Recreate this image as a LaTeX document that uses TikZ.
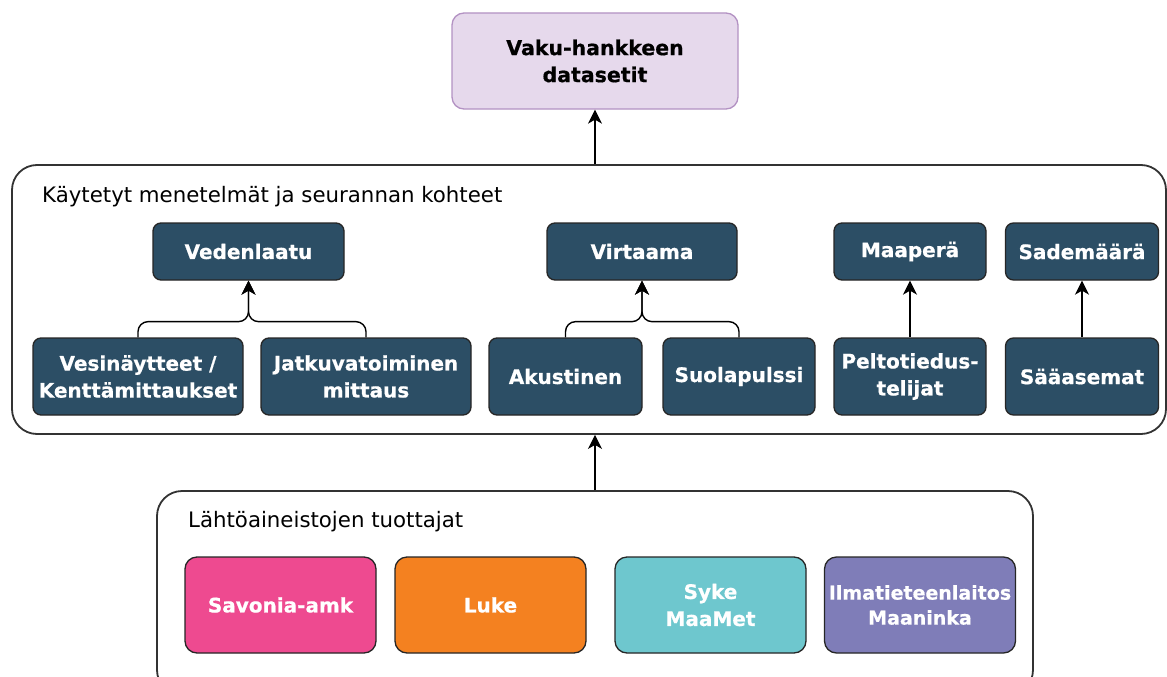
\documentclass[tikz,border=0pt]{standalone}
\usepackage{fontspec}
\setmainfont{DejaVu Sans}[BoldFeatures={FakeBold=0.6}]
\usetikzlibrary{arrows.meta}
\definecolor{navy}{HTML}{2C4E65}
\definecolor{lilac}{HTML}{E6D9EC}
\definecolor{lilacline}{HTML}{B392C3}
\definecolor{pinkc}{HTML}{EE4A90}
\definecolor{orangec}{HTML}{F48120}
\definecolor{tealc}{HTML}{6EC7CE}
\definecolor{purplec}{HTML}{7F7DB8}
\definecolor{frame}{HTML}{333333}
\begin{document}
\begin{tikzpicture}[x=1pt,y=-1pt,
  boxfont/.style={font=\bfseries\fontsize{20}{27}\selectfont},
  dark/.style={draw=black!85, line width=1.3pt, fill=navy, rounded corners=8pt, text=white, boxfont, align=center, inner sep=0pt},
  colbox/.style={draw=black!85, line width=1.3pt, rounded corners=12pt, text=white, boxfont, align=center, inner sep=0pt, minimum width=191pt, minimum height=96pt},
  container/.style={draw=frame, line width=1.8pt, fill=white, rounded corners=25pt, inner sep=0pt},
  heading/.style={font=\fontsize{21.3}{25}\selectfont, anchor=base west, inner sep=0pt},
  arr/.style={line width=1.4pt, -{Stealth[length=14pt,width=14pt,inset=4pt]}},
  brace/.style={arr, rounded corners=10pt}
]
\useasboundingbox (0,0) rectangle (1167,677);
\clip (0,0) rectangle (1167,677);
\fill[white] (0,0) rectangle (1167,677);

% top result box
\node[draw=lilacline, line width=1.3pt, fill=lilac, rounded corners=12pt, font=\bfseries\fontsize{20.5}{27}\selectfont, align=center, inner sep=0pt, minimum width=286pt, minimum height=96pt] (top) at (595,61) {Vaku-hankkeen\\datasetit};

% containers
\node[container, minimum width=1154pt, minimum height=269pt] (mid) at (589,299.5) {};
\node[container, minimum width=876pt, minimum height=204pt] (bot) at (595,593) {};

\node[heading] (midtitle) at (42,202) {Käytetyt menetelmät ja seurannan kohteet};
\node[heading] (bottitle) at (188,527) {Lähtöaineistojen tuottajat};

% middle nodes, top row
\node[dark, minimum width=191pt, minimum height=57pt] (veden) at (248.5,251.5) {Vedenlaatu};
\node[dark, minimum width=190pt, minimum height=57pt] (virt) at (642,251.5) {Virtaama};
\node[dark, minimum width=152pt, minimum height=57pt] (maap) at (910,251.5) {Maaperä};
\node[dark, minimum width=153pt, minimum height=57pt] (sade) at (1082,251.5) {Sademäärä};

% middle nodes, bottom row
\node[dark, minimum width=210pt, minimum height=77pt] (vesi) at (138,376.5) {Vesinäytteet /\\Kenttämittaukset};
\node[dark, minimum width=210pt, minimum height=77pt] (jatku) at (366,376.5) {Jatkuvatoiminen\\mittaus};
\node[dark, minimum width=153pt, minimum height=77pt] (akus) at (565.5,376.5) {Akustinen};
\node[dark, minimum width=152pt, minimum height=77pt] (suola) at (739,376.5) {Suolapulssi};
\node[dark, minimum width=152pt, minimum height=77pt] (pelto) at (910,376.5) {Peltotiedus-\\telijat};
\node[dark, minimum width=153pt, minimum height=77pt] (saa) at (1082,376.5) {Sääasemat};

% producers
\node[colbox, fill=pinkc] (savonia) at (280.5,605) {Savonia-amk};
\node[colbox, fill=orangec] (luke) at (490.5,605) {Luke};
\node[colbox, fill=tealc] (syke) at (710.5,605) {Syke\\MaaMet};
\node[colbox, fill=purplec, font=\bfseries\fontsize{19}{25}\selectfont] (ilma) at (920,605) {Ilmatieteenlaitos\\Maaninka};

% junctions
\coordinate (j1) at ([yshift=-41pt]veden.south);
\coordinate (j2) at ([yshift=-41pt]virt.south);

% connectors
\draw[brace] (vesi.north) |- (j1) -- (veden.south);
\draw[brace] (jatku.north) |- (j1) -- (veden.south);
\draw[brace] (akus.north) |- (j2) -- (virt.south);
\draw[brace] (suola.north) |- (j2) -- (virt.south);
\draw[arr] (pelto.north) -- (maap.south);
\draw[arr] (saa.north) -- (sade.south);
\draw[arr] (top.south |- mid.north) -- (top.south);
\draw[arr] (bot.north) -- (bot.north |- mid.south);
\end{tikzpicture}
\end{document}
